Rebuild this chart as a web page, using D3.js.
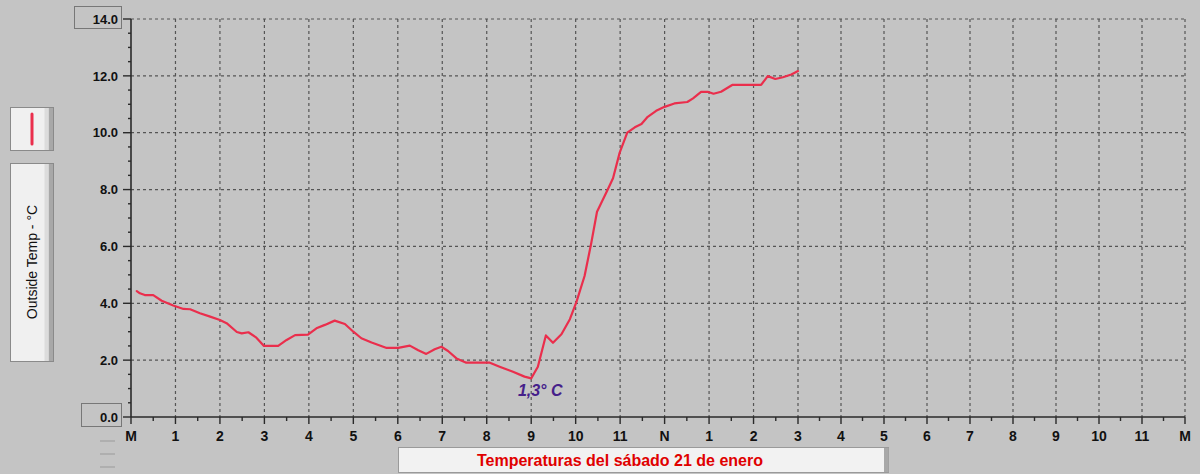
<!DOCTYPE html>
<html><head><meta charset="utf-8">
<script src="https://cdn.jsdelivr.net/npm/d3@7"></script>
<style>html,body{margin:0;padding:0;background:#c4c4c4;overflow:hidden}</style>
</head><body>
<svg id="chart" width="1200" height="474"></svg>
<script>
// ---- data ----
const hours = [0.13,0.20,0.31,0.50,0.69,0.95,1.18,1.33,1.55,1.78,2.00,2.15,2.38,2.49,2.64,2.82,2.99,3.31,3.50,3.69,3.98,4.17,4.36,4.58,4.81,5.00,5.18,5.41,5.75,6.01,6.27,6.46,6.64,6.83,6.98,7.13,7.32,7.54,7.84,8.07,8.29,8.59,8.85,9.00,9.15,9.33,9.49,9.68,9.87,10.02,10.20,10.35,10.48,10.70,10.84,10.99,11.16,11.33,11.48,11.62,11.81,12.00,12.22,12.51,12.64,12.82,12.97,13.10,13.27,13.52,14.17,14.32,14.49,14.66,14.85,15.00];
const temps = [4.43,4.35,4.29,4.29,4.09,3.92,3.80,3.79,3.65,3.53,3.41,3.30,2.99,2.94,2.98,2.79,2.50,2.50,2.71,2.88,2.90,3.12,3.24,3.39,3.27,3.00,2.77,2.62,2.43,2.43,2.51,2.35,2.22,2.38,2.47,2.32,2.06,1.91,1.91,1.91,1.77,1.59,1.42,1.36,1.77,2.87,2.61,2.91,3.44,4.06,4.96,6.11,7.22,7.93,8.40,9.30,10.00,10.19,10.31,10.56,10.77,10.91,11.03,11.08,11.21,11.44,11.44,11.37,11.44,11.68,11.68,11.99,11.89,11.95,12.05,12.17];
const xTickLabels = ["M","1","2","3","4","5","6","7","8","9","10","11","N","1","2","3","4","5","6","7","8","9","10","11","M"];
const yTicks = [0,2,4,6,8,10,12,14];
const yLabels = ["0.0","2.0","4.0","6.0","8.0","10.0","12.0","14.0"];
const seriesName = "Outside Temp - °C";
const title = "Temperaturas del sábado 21 de enero";
const minLabel = "1,3° C";
const minHour = 9.0, minTemp = 1.36;

// ---- layout ----
const svg = d3.select("#chart");
const x = d3.scaleLinear().domain([0, 15, 24]).range([131, 798, 1185]);
const y = d3.scaleLinear().domain([0, 14]).range([417, 19]);
const hourIdx = d3.range(0, 25);

const gridCol = "#555", axisCol = "#2a2a2a";
const narrowFont = "'Liberation Sans Narrow','Liberation Sans',Arial,sans-serif";
const sansFont = "'Liberation Sans',Arial,sans-serif";

// grid
svg.append("g").selectAll("line").data(hourIdx.slice(1)).join("line")
  .attr("x1", d => x(d)).attr("x2", d => x(d)).attr("y1", y(14)).attr("y2", y(0))
  .attr("stroke", gridCol).attr("stroke-width", 1.2).attr("stroke-dasharray", "3,3");
svg.append("g").selectAll("line").data(yTicks.slice(1)).join("line")
  .attr("x1", x(0)).attr("x2", x(24)).attr("y1", d => y(d)).attr("y2", d => y(d))
  .attr("stroke", gridCol).attr("stroke-width", 1.2).attr("stroke-dasharray", "3,3");

// y axis
const yMinor = d3.range(0, 14.01, 0.5);
svg.append("line").attr("x1", x(0)).attr("x2", x(0)).attr("y1", y(14)).attr("y2", y(0))
  .attr("stroke", axisCol).attr("stroke-width", 1.6);
svg.append("g").selectAll("line").data(yMinor).join("line")
  .attr("x1", d => (d % 2 === 0) ? 123 : 128).attr("x2", x(0))
  .attr("y1", d => y(d)).attr("y2", d => y(d))
  .attr("stroke", axisCol).attr("stroke-width", 1.4);

// boxes behind 14.0 and 0.0
svg.append("rect").attr("x", 74.5).attr("y", 6.5).attr("width", 47).attr("height", 22)
  .attr("fill", "none").attr("stroke", "#777").attr("stroke-width", 1);
svg.append("rect").attr("x", 81.5).attr("y", 403.5).attr("width", 40).attr("height", 23)
  .attr("fill", "none").attr("stroke", "#777").attr("stroke-width", 1);

svg.append("g").selectAll("text").data(yTicks).join("text")
  .attr("x", 118).attr("y", d => y(d)).attr("dy", "0.36em")
  .attr("text-anchor", "end").attr("font-family", sansFont).attr("font-weight", "bold")
  .attr("font-size", 13).attr("fill", "#111")
  .text((d, i) => yLabels[i]);

// x axis
const xMinor = d3.range(0, 24.01, 0.5);
svg.append("line").attr("x1", x(0)).attr("x2", x(24)).attr("y1", y(0)).attr("y2", y(0))
  .attr("stroke", axisCol).attr("stroke-width", 1.6);
svg.append("g").selectAll("line").data(xMinor).join("line")
  .attr("x1", d => x(d)).attr("x2", d => x(d))
  .attr("y1", y(0)).attr("y2", d => (d % 1 === 0) ? y(0) + 7 : y(0) + 4)
  .attr("stroke", axisCol).attr("stroke-width", 1.4);
svg.append("g").selectAll("text").data(hourIdx).join("text")
  .attr("x", d => x(d)).attr("y", 441)
  .attr("text-anchor", "middle").attr("font-family", narrowFont).attr("font-weight", "bold")
  .attr("font-size", 14).attr("fill", "#111")
  .text(d => xTickLabels[d]);

// faint dashes under 0.0
svg.append("g").selectAll("line").data([441, 454, 467]).join("line")
  .attr("x1", 100).attr("x2", 115).attr("y1", d => d).attr("y2", d => d)
  .attr("stroke", "#a9a9a9").attr("stroke-width", 1.5);

// data line
const pts = hours.map((h, i) => [h, temps[i]]);
svg.append("path").datum(pts)
  .attr("d", d3.line().x(d => x(d[0])).y(d => y(d[1])))
  .attr("fill", "none").attr("stroke", "#ea2e4c").attr("stroke-width", 2.2)
  .attr("stroke-linejoin", "round").attr("stroke-linecap", "round");

// min annotation
svg.append("text").attr("x", x(minHour) + 9).attr("y", y(minTemp) + 18)
  .attr("text-anchor", "middle").attr("font-family", sansFont)
  .attr("font-style", "italic").attr("font-weight", "bold").attr("font-size", 16)
  .attr("fill", "#45208a").text(minLabel);

// legend boxes
function button(g, bx, by, bw, bh) {
  g.append("rect").attr("x", bx).attr("y", by).attr("width", bw).attr("height", bh)
    .attr("fill", "#f0f0f0").attr("stroke", "#8a8a8a").attr("stroke-width", 1);
  g.append("rect").attr("x", bx + bw - 5).attr("y", by + 0.5).attr("width", 4.5).attr("height", bh - 1)
    .attr("fill", "#a8a8a8");
  g.append("rect").attr("x", bx + bw - 9).attr("y", by + 0.5).attr("width", 4).attr("height", bh - 1)
    .attr("fill", "#dcdcdc");
}
const lg = svg.append("g");
button(lg, 10.5, 107.5, 43, 43);
lg.append("line").attr("x1", 32).attr("x2", 32).attr("y1", 114).attr("y2", 144)
  .attr("stroke", "#ea2e4c").attr("stroke-width", 3).attr("stroke-linecap", "round");
button(lg, 10.5, 163.5, 43, 198);
lg.append("text").attr("transform", "translate(37,262) rotate(-90)")
  .attr("text-anchor", "middle").attr("font-family", sansFont)
  .attr("font-size", 14).attr("fill", "#111").text(seriesName);

// title box
const tg = svg.append("g");
tg.append("rect").attr("x", 398.5).attr("y", 447.5).attr("width", 490).attr("height", 25)
  .attr("fill", "#f2f2f2").attr("stroke", "#9a9a9a").attr("stroke-width", 1);
tg.append("rect").attr("x", 884).attr("y", 448).attr("width", 4.5).attr("height", 24).attr("fill", "#a8a8a8");
tg.append("text").attr("x", 620).attr("y", 466).attr("text-anchor", "middle")
  .attr("font-family", sansFont).attr("font-weight", "bold")
  .attr("font-size", 16).attr("fill", "#e00000").text(title);
</script>
</body></html>
